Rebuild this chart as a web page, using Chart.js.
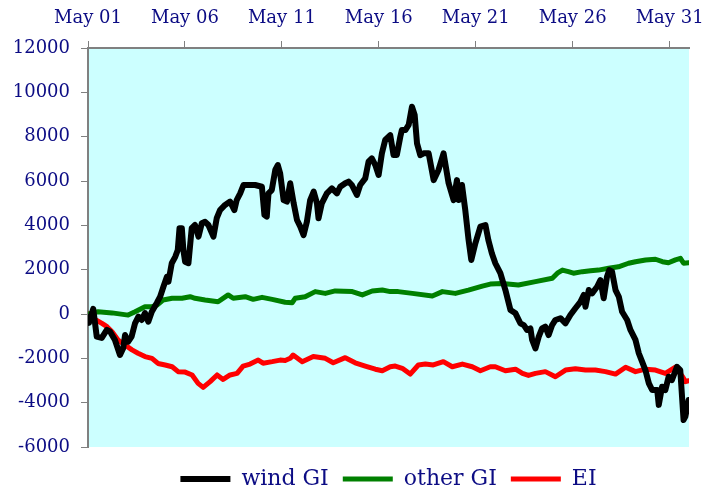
<!DOCTYPE html>
<html>
<head>
<meta charset="utf-8">
<script src="https://cdn.jsdelivr.net/npm/chart.js@4/dist/chart.umd.min.js"></script>
<style>
  html, body { margin: 0; padding: 0; background: #ffffff; }
  #wrap { width: 710px; height: 493px; }
</style>
</head>
<body>
<div id="wrap"><canvas id="myChart" width="710" height="493"></canvas></div>
<script>
// x values are days since May 01 00:00
const tickDays = [0, 5, 10, 15, 20, 25, 30];
const tickLabels = ['May 01', 'May 06', 'May 11', 'May 16', 'May 21', 'May 26', 'May 31'];

const windDays = [
  0, 0.05, 0.27, 0.45, 0.71, 0.97, 1.14, 1.39, 1.65, 1.82,
  1.91, 2.07, 2.25, 2.43, 2.60, 2.77, 2.94, 3.11, 3.29, 3.55,
  3.72, 3.89, 4.07, 4.15, 4.32, 4.50, 4.63, 4.72, 4.84, 4.92,
  5.01, 5.18, 5.35, 5.52, 5.70, 5.87, 6.04, 6.21, 6.47, 6.64,
  6.81, 7.07, 7.33, 7.55, 7.67, 7.85, 8.02, 8.28, 8.62, 8.97,
  9.10, 9.22, 9.31, 9.48, 9.66, 9.79, 9.91, 10.09, 10.26, 10.43,
  10.61, 10.78, 10.95, 11.12, 11.29, 11.46, 11.64, 11.81, 11.89, 12.06,
  12.32, 12.58, 12.84, 13.01, 13.27, 13.44, 13.61, 13.87, 14.04, 14.30,
  14.47, 14.64, 14.82, 14.99, 15.16, 15.33, 15.59, 15.76, 15.93, 16.11,
  16.19, 16.37, 16.54, 16.71, 16.85, 16.97, 17.14, 17.31, 17.57, 17.83,
  18.08, 18.34, 18.60, 18.86, 19.03, 19.12, 19.29, 19.46, 19.63, 19.77,
  19.98, 20.24, 20.50, 20.65, 20.83, 21.01, 21.27, 21.53, 21.79, 22.05,
  22.30, 22.48, 22.65, 22.82, 22.91, 23.08, 23.25, 23.42, 23.59, 23.76,
  23.94, 24.11, 24.37, 24.63, 24.88, 25.14, 25.40, 25.57, 25.66, 25.83,
  26.00, 26.26, 26.43, 26.60, 26.77, 26.89, 27.03, 27.21, 27.38, 27.55,
  27.81, 27.98, 28.24, 28.41, 28.58, 28.75, 28.93, 29.10, 29.36, 29.44,
  29.61, 29.78, 29.95, 30.12, 30.38, 30.55, 30.72, 30.81, 30.98
];
const windGI = [
  -150, -400, 230, -1020, -1080, -720, -800, -1170, -1850, -1530,
  -950, -1250, -1020, -410, -120, -270, 45, -350, 100, 500,
  780, 1230, 1680, 1460, 2290, 2580, 2890, 3870, 3870, 2890,
  2360, 2290, 3870, 4015, 3490, 4090, 4160, 4015, 3490, 4320,
  4690, 4920, 5070, 4690, 5140, 5440, 5820, 5820, 5820, 5740,
  4470, 4390, 5440, 5590, 6500, 6720, 6350, 5140, 5070, 5900,
  4990, 4240, 3940, 3560, 4160, 5140, 5520, 4990, 4320, 4990,
  5440, 5670, 5440, 5740, 5900, 5970, 5820, 5370, 5820, 6120,
  6870, 7020, 6720, 6270, 7250, 7850, 8070, 7170, 7170, 8000,
  8300, 8300, 8530, 9350, 8980, 7700, 7170, 7250, 7250, 6040,
  6500, 7250, 5900, 5140, 6040, 5140, 5820, 4690, 3340, 2440,
  3190, 3940, 4015, 3340, 2740, 2290, 1840, 1080, 180, 30,
  -420, -500, -720, -650, -1170, -1550, -1020, -650, -570, -950,
  -500, -270, -190, -420, -45, 260, 550, 860, 330, 1080,
  930, 1230, 1530, 710, 1680, 1980, 1910, 1080, 780, 100,
  -270, -720, -1170, -1770, -2150, -2530, -3130, -3430, -3430, -4100,
  -3280, -3430, -2830, -2980, -2380, -2530, -4780, -4630, -3880
];

const otherDays = [
  0, 0.52, 1.24, 2.07, 2.43, 2.94, 3.30, 3.56, 3.87, 4.34,
  4.85, 5.27, 5.52, 6.04, 6.71, 7.23, 7.49, 8.11, 8.52, 8.98,
  9.50, 10.17, 10.53, 10.69, 11.20, 11.72, 12.24, 12.75, 13.63, 14.15,
  14.66, 15.18, 15.59, 16.00, 16.73, 17.76, 18.28, 18.95, 19.62, 20.34,
  20.75, 21.37, 22.20, 23.08, 23.95, 24.21, 24.47, 24.78, 25.04, 25.50,
  25.92, 26.33, 26.85, 27.36, 27.88, 28.24, 28.76, 29.27, 29.63, 29.94,
  30.30, 30.56, 30.72, 30.98
];
const otherGI = [
  0, 100, 50, -50, 100, 330, 330, 400, 630, 710,
  710, 780, 710, 630, 550, 860, 710, 780, 660, 750,
  660, 530, 510, 710, 780, 1010, 930, 1040, 1010, 860,
  1040, 1080, 1010, 1010, 930, 810, 1010, 930, 1080, 1260,
  1350, 1380, 1310, 1460, 1610, 1840, 1980, 1910, 1840, 1910,
  1950, 1980, 2060, 2130, 2290, 2360, 2440, 2470, 2360, 2310,
  2440, 2510, 2290, 2310
];

const eiDays = [
  0, 0.36, 0.72, 0.98, 1.24, 1.55, 1.91, 2.27, 2.58, 2.94,
  3.30, 3.61, 3.98, 4.34, 4.65, 5.01, 5.37, 5.68, 5.94, 6.30,
  6.66, 6.97, 7.33, 7.69, 8.00, 8.36, 8.78, 9.03, 9.50, 9.91,
  10.17, 10.43, 10.58, 11.05, 11.62, 12.24, 12.65, 13.27, 13.78, 14.30,
  14.82, 15.18, 15.59, 15.85, 16.21, 16.62, 17.04, 17.40, 17.81, 18.33,
  18.79, 19.31, 19.82, 20.24, 20.75, 21.01, 21.53, 22.05, 22.41, 22.72,
  23.08, 23.59, 24.11, 24.63, 25.14, 25.66, 26.17, 26.69, 27.21, 27.73,
  28.24, 28.76, 29.27, 29.78, 30.30, 30.67, 30.82, 30.98
];
const EI = [
  0, -240, -420, -570, -800, -1170, -1400, -1620, -1770, -1920,
  -2000, -2230, -2300, -2380, -2600, -2620, -2750, -3130, -3310, -3050,
  -2750, -2950, -2750, -2680, -2350, -2260, -2080, -2220, -2150, -2080,
  -2100, -2000, -1850, -2150, -1920, -2000, -2200, -1970, -2200, -2350,
  -2490, -2560, -2380, -2350, -2450, -2710, -2300, -2260, -2300, -2150,
  -2380, -2260, -2380, -2560, -2380, -2380, -2560, -2490, -2680, -2770,
  -2680, -2600, -2830, -2530, -2470, -2530, -2530, -2600, -2710, -2400,
  -2600, -2490, -2530, -2680, -2400, -2830, -3050, -3010
];

const navy = '#0c0c84';
const axisGrey = '#808080';

const pts = (xs, ys) => xs.map((x, i) => ({ x: x, y: ys[i] }));

// paint the plot area light cyan
const plotBg = {
    id: 'plotBg',
    beforeDraw(chart) {
        const a = chart.chartArea;
        const ctx = chart.ctx;
        ctx.save();
        ctx.fillStyle = '#ccffff';
        ctx.fillRect(a.left, a.top, a.right - a.left, a.bottom - a.top);
        ctx.restore();
    }
};

// nudge the legend a bit lower, like the original
const legendDown = {
    id: 'legendDown',
    afterLayout(chart) {
        chart.legend.top += 7;
        chart.legend.bottom += 7;
    }
};

Chart.defaults.font.family = '"DejaVu Serif", serif';
Chart.defaults.color = navy;

const line = (label, xs, ys, color, w) => ({
    label: label,
    data: pts(xs, ys),
    borderColor: color,
    backgroundColor: color,
    borderWidth: w,
    borderCapStyle: 'round',
    borderJoinStyle: 'round',
    pointRadius: 0,
    tension: 0,
    fill: false
});

const ctx = document.getElementById('myChart').getContext('2d');
const myChart = new Chart(ctx, {
    type: 'line',
    data: {
        datasets: [
            line('wind GI', windDays, windGI, '#000000', 6),
            line('other GI', otherDays, otherGI, '#008000', 5),
            line('EI', eiDays, EI, '#ff0000', 5)
        ]
    },
    options: {
        responsive: false,
        animation: false,
        layout: { padding: { left: 0, right: 21, top: 0, bottom: 0 } },
        plugins: {
            tooltip: { enabled: false },
            legend: {
                position: 'bottom',
                fullSize: false,
                labels: {
                    usePointStyle: true,
                    pointStyle: 'line',
                    pointStyleWidth: 50,
                    padding: 14,
                    color: navy,
                    font: { size: 22 }
                }
            }
        },
        scales: {
            x: {
                type: 'linear',
                position: 'top',
                min: 0,
                max: 31,
                afterBuildTicks: s => { s.ticks = tickDays.map(v => ({ value: v })); },
                afterFit: s => {
                    s.height = 48;
                    s.paddingLeft = 0;
                    s.paddingRight = 0;
                },
                ticks: {
                    autoSkip: false,
                    maxRotation: 0,
                    padding: 12,
                    color: navy,
                    font: { size: 18 },
                    callback: (v, i) => tickLabels[i]
                },
                grid: { drawOnChartArea: false, tickLength: 7, color: axisGrey },
                border: { display: true, color: axisGrey, width: 2 }
            },
            y: {
                min: -6000,
                max: 12000,
                afterFit: s => { s.width = 88; },
                ticks: {
                    stepSize: 2000,
                    padding: 11,
                    color: navy,
                    font: { size: 18 },
                    callback: v => String(v)
                },
                grid: { drawOnChartArea: false, tickLength: 7, color: axisGrey },
                border: { display: true, color: axisGrey, width: 2 }
            }
        }
    },
    plugins: [plotBg, legendDown]
});
</script>
</body>
</html>
